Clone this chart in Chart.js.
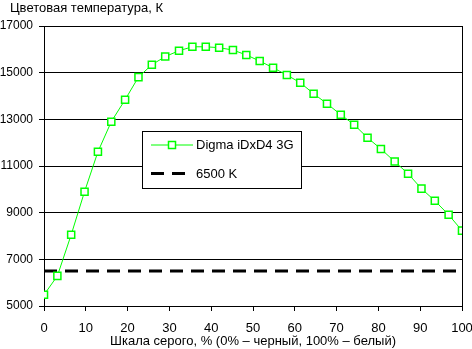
<!DOCTYPE html>
<html>
<head>
<meta charset="utf-8">
<script src="https://cdn.jsdelivr.net/npm/chart.js@4/dist/chart.umd.min.js"></script>
<style>
  html, body { margin: 0; padding: 0; background: #fff; }
  #chart { display: block; }
</style>
</head>
<body>
<canvas id="chart" width="472" height="349"></canvas>
<script>
// grey level, % (0% - black, 100% - white)
const greyLevels = [0, 3.2, 6.5, 9.7, 12.9, 16.1, 19.4, 22.6, 25.8, 29, 32.3, 35.5, 38.7, 41.9, 45.2, 48.4,
  51.6, 54.8, 58.1, 61.3, 64.5, 67.7, 71, 74.2, 77.4, 80.6, 83.9, 87.1, 90.3, 93.5, 96.8, 100];
// colour temperature, K
const tempValues = [5480, 6290, 8050, 9900, 11610, 12900, 13840, 14810, 15340, 15690, 15940, 16110, 16110, 16070, 15970, 15760,
  15500, 15210, 14900, 14570, 14100, 13670, 13200, 12770, 12210, 11730, 11190, 10670, 10030, 9510, 8910, 8230];
// reference line
const refX = [0, 100];
const refY = [6500, 6500];
const seriesNames = ["Digma iDxD4 3G", "6500 K"];
const yTitle = "Цветовая температура, К";
const xTitle = "Шкала серого, % (0% – черный, 100% – белый)";

const FONT = "'Liberation Sans', Arial, sans-serif";

//axis caption in the top left corner
const topTitle = {
  id: "topTitle",
  afterDraw(chart) {
    const ctx = chart.ctx;
    ctx.save();
    ctx.fillStyle = "#000";
    ctx.font = "13px " + FONT;
    ctx.textBaseline = "middle";
    ctx.textAlign = "left";
    ctx.fillText(yTitle, 10, 8.5);
    ctx.restore();
  },
};

//legend box drawn inside the plot
const boxLegend = {
  id: "boxLegend",
  afterDatasetsDraw(chart) {
    const ctx = chart.ctx;
    const bx = 142, by = 131, bw = 160, bh = 58;
    ctx.save();
    ctx.fillStyle = "#fff";
    ctx.fillRect(bx, by, bw, bh);
    ctx.strokeStyle = "#000";
    ctx.lineWidth = 1;
    ctx.strokeRect(bx + 0.5, by + 0.5, bw - 1, bh - 1);
    chart.data.datasets.forEach((ds, i) => {
      const y = by + 14 + i * 28.5;
      ctx.strokeStyle = ds.borderColor;
      ctx.lineWidth = ds.borderWidth;
      ctx.setLineDash(ds.borderDash || []);
      ctx.beginPath();
      ctx.moveTo(151, y);
      ctx.lineTo(193, y);
      ctx.stroke();
      ctx.setLineDash([]);
      if (ds.pointRadius > 0) {
        ctx.fillStyle = ds.pointBackgroundColor;
        ctx.lineWidth = ds.pointBorderWidth;
        ctx.strokeStyle = ds.pointBorderColor;
        ctx.fillRect(168.5, y - 3.5, 7, 7);
        ctx.strokeRect(168.5, y - 3.5, 7, 7);
      }
      ctx.fillStyle = "#000";
      ctx.font = "13px " + FONT;
      ctx.textBaseline = "middle";
      ctx.fillText(ds.label, 196, y + 0.5);
    });
    ctx.restore();
  },
};

new Chart(document.getElementById("chart"), {
  type: "line",
  plugins: [boxLegend, topTitle],
  data: {
    datasets: [
      {
        label: seriesNames[0],
        data: greyLevels.map((x, i) => ({ x: x, y: tempValues[i] })),
        borderColor: "#00ff00",
        borderWidth: 1,
        pointStyle: "rect",
        pointRadius: 5,
        pointBorderWidth: 1.5,
        pointBorderColor: "#00ff00",
        pointBackgroundColor: "#ffffff",
        tension: 0,
      },
      {
        label: seriesNames[1],
        data: refX.map((x, i) => ({ x: x, y: refY[i] })),
        borderColor: "#000000",
        borderWidth: 3,
        borderDash: [13, 8],
        pointRadius: 0,
      },
    ],
  },
  options: {
    responsive: false,
    devicePixelRatio: 1,
    animation: false,
    layout: { padding: { left: 0, right: 0, top: 26, bottom: 0 } },
    plugins: {
      legend: { display: false },
      tooltip: { enabled: false },
      title: { display: false },
    },
    scales: {
      x: {
        type: "linear",
        min: 0,
        max: 100,
        ticks: { stepSize: 10, color: "#000", font: { family: FONT, size: 13 }, padding: 10, maxRotation: 0 },
        grid: {
          color: (c) => (c.tick && c.tick.value === 100 ? "#000" : "rgba(0,0,0,0)"),
          tickColor: "#000",
          tickLength: 5,
          lineWidth: 1,
        },
        border: { color: "#000", width: 1 },
        title: {
          display: true,
          text: xTitle,
          color: "#000",
          font: { family: FONT, size: 13 },
          padding: { top: 0, bottom: 0 },
        },
        afterFit: (s) => {
          s.height = 43;
          s.paddingRight = 10;
          s.paddingLeft = 0;
        },
      },
      y: {
        min: 5000,
        max: 17000,
        ticks: {
          stepSize: 2000,
          color: "#000",
          font: { family: FONT, size: 12 },
          padding: 6,
          callback: (v) => String(v),
        },
        grid: { color: "#000", tickColor: "#000", tickLength: 5, lineWidth: 1 },
        border: { color: "#000", width: 1 },
        afterFit: (s) => { s.width = 44; },
      },
    },
  },
});
</script>
</body>
</html>
